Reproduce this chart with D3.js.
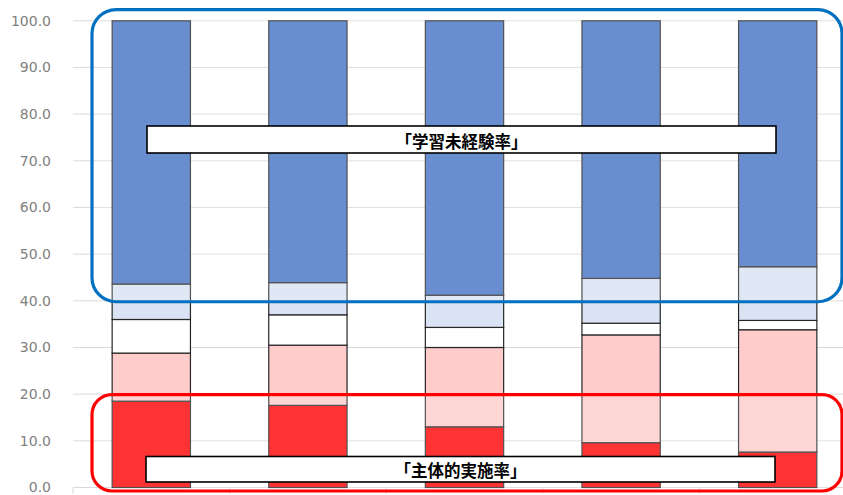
<!DOCTYPE html>
<html>
<head>
<meta charset="utf-8">
<script src="https://cdn.jsdelivr.net/npm/d3@7"></script>
<style>
  html, body { margin: 0; padding: 0; background: #ffffff; }
  svg { display: block; }
</style>
</head>
<body>
<svg id="chart" width="843" height="495"></svg>
<script>
// ---- data ----
const categories = ["A", "B", "C", "D", "E"];
const seriesNames = ["主体的実施", "実施", "その他", "未経験（一部）", "学習未経験"];
const redValues       = [18.5, 17.6, 13.0,  9.6,  7.6];
const pinkValues      = [10.3, 12.9, 17.0, 23.1, 26.2];
const whiteValues     = [ 7.2,  6.5,  4.3,  2.5,  2.0];
const lightBlueValues = [ 7.6,  6.9,  6.9,  9.6, 11.5];
const blueValues      = [56.4, 56.1, 58.8, 55.2, 52.7];
const yTicks = [0, 10, 20, 30, 40, 50, 60, 70, 80, 90, 100];
const annotationTop = "「学習未経験率」";
const annotationBottom = "「主体的実施率」";

const seriesValues = [redValues, pinkValues, whiteValues, lightBlueValues, blueValues];
const seriesColors = ["#FF0000", "#FFCCCC", "#FFFFFF", "#DAE3F3", "#4472C4"];

// ---- layout ----
const svg = d3.select("#chart");
const plotLeft = 73, plotRight = 856, plotTop = 20.8, plotBottom = 487.5;

const x = d3.scaleBand().domain(categories).range([plotLeft, plotRight])
  .paddingInner(0.5).paddingOuter(0.25);
const y = d3.scaleLinear().domain([0, 100]).range([plotBottom, plotTop]);

// gridlines
svg.append("g").selectAll("line").data(yTicks).join("line")
  .attr("x1", plotLeft).attr("x2", plotRight)
  .attr("y1", d => y(d)).attr("y2", d => y(d))
  .attr("stroke", "#D9D9D9").attr("stroke-width", 1);

// y axis labels
const yAxis = d3.axisLeft(y).tickValues(yTicks).tickFormat(d3.format(".1f")).tickSize(0).tickPadding(0);
const gy = svg.append("g").attr("transform", `translate(51,0)`).call(yAxis);
gy.select(".domain").remove();
gy.selectAll("text")
  .attr("fill", "#808080")
  .style("font-family", "'DejaVu Sans', Verdana, sans-serif")
  .style("font-size", "14px");

// x axis line with ticks at band boundaries
const gx = svg.append("g");
gx.append("line").attr("x1", plotLeft).attr("x2", plotRight)
  .attr("y1", plotBottom).attr("y2", plotBottom)
  .attr("stroke", "#D9D9D9").attr("stroke-width", 1);
const boundaries = categories.map((c, i) => plotLeft + i * (plotRight - plotLeft) / categories.length);
boundaries.push(plotRight);
gx.selectAll("line.tick").data(boundaries).join("line")
  .attr("class", "tick")
  .attr("x1", d => d).attr("x2", d => d)
  .attr("y1", plotBottom).attr("y2", plotBottom + 6)
  .attr("stroke", "#D9D9D9").attr("stroke-width", 1);

// stacked bars
const rows = categories.map((c, i) => {
  const r = { cat: c };
  seriesNames.forEach((s, j) => r[s] = seriesValues[j][i]);
  return r;
});
const stack = d3.stack().keys(seriesNames)(rows);
svg.append("g").selectAll("g").data(stack).join("g")
  .attr("fill", (d, i) => seriesColors[i])
  .selectAll("rect").data(d => d).join("rect")
  .attr("x", d => x(d.data.cat))
  .attr("width", x.bandwidth())
  .attr("y", d => y(d[1]))
  .attr("height", d => y(d[0]) - y(d[1]))
  .attr("stroke", "#262626")
  .attr("stroke-width", 1.2);

// highlight boxes (semi-transparent white fill lightens the bars)
const boxLeft = 92, boxRight = 842;
svg.append("rect")
  .attr("x", boxLeft).attr("y", y(102.4))
  .attr("width", boxRight - boxLeft).attr("height", y(39.8) - y(102.4))
  .attr("rx", 24).attr("ry", 24)
  .attr("fill", "rgba(255,255,255,0.2)")
  .attr("stroke", "#0070C0").attr("stroke-width", 3.2);
svg.append("rect")
  .attr("x", boxLeft).attr("y", y(19.9))
  .attr("width", boxRight - boxLeft).attr("height", y(-0.75) - y(19.9))
  .attr("rx", 20).attr("ry", 20)
  .attr("fill", "rgba(255,255,255,0.2)")
  .attr("stroke", "#FF0000").attr("stroke-width", 3.2);

// label boxes
function labelBox(x0, x1, y0, y1, text) {
  const g = svg.append("g");
  g.append("rect").attr("x", x0).attr("y", y0).attr("width", x1 - x0).attr("height", y1 - y0)
    .attr("fill", "#FFFFFF").attr("stroke", "#000000").attr("stroke-width", 1.6);
  g.append("text").attr("x", (x0 + x1) / 2).attr("y", (y0 + y1) / 2 + 1)
    .attr("text-anchor", "middle").attr("dominant-baseline", "central")
    .style("font-family", "'Noto Sans CJK JP', sans-serif")
    .style("font-weight", "bold").style("font-size", "16.5px")
    .attr("fill", "#000000").text(text);
}
labelBox(147, 776, 126, 153, annotationTop);
labelBox(146, 775, 456.5, 482, annotationBottom);
</script>
</body>
</html>
